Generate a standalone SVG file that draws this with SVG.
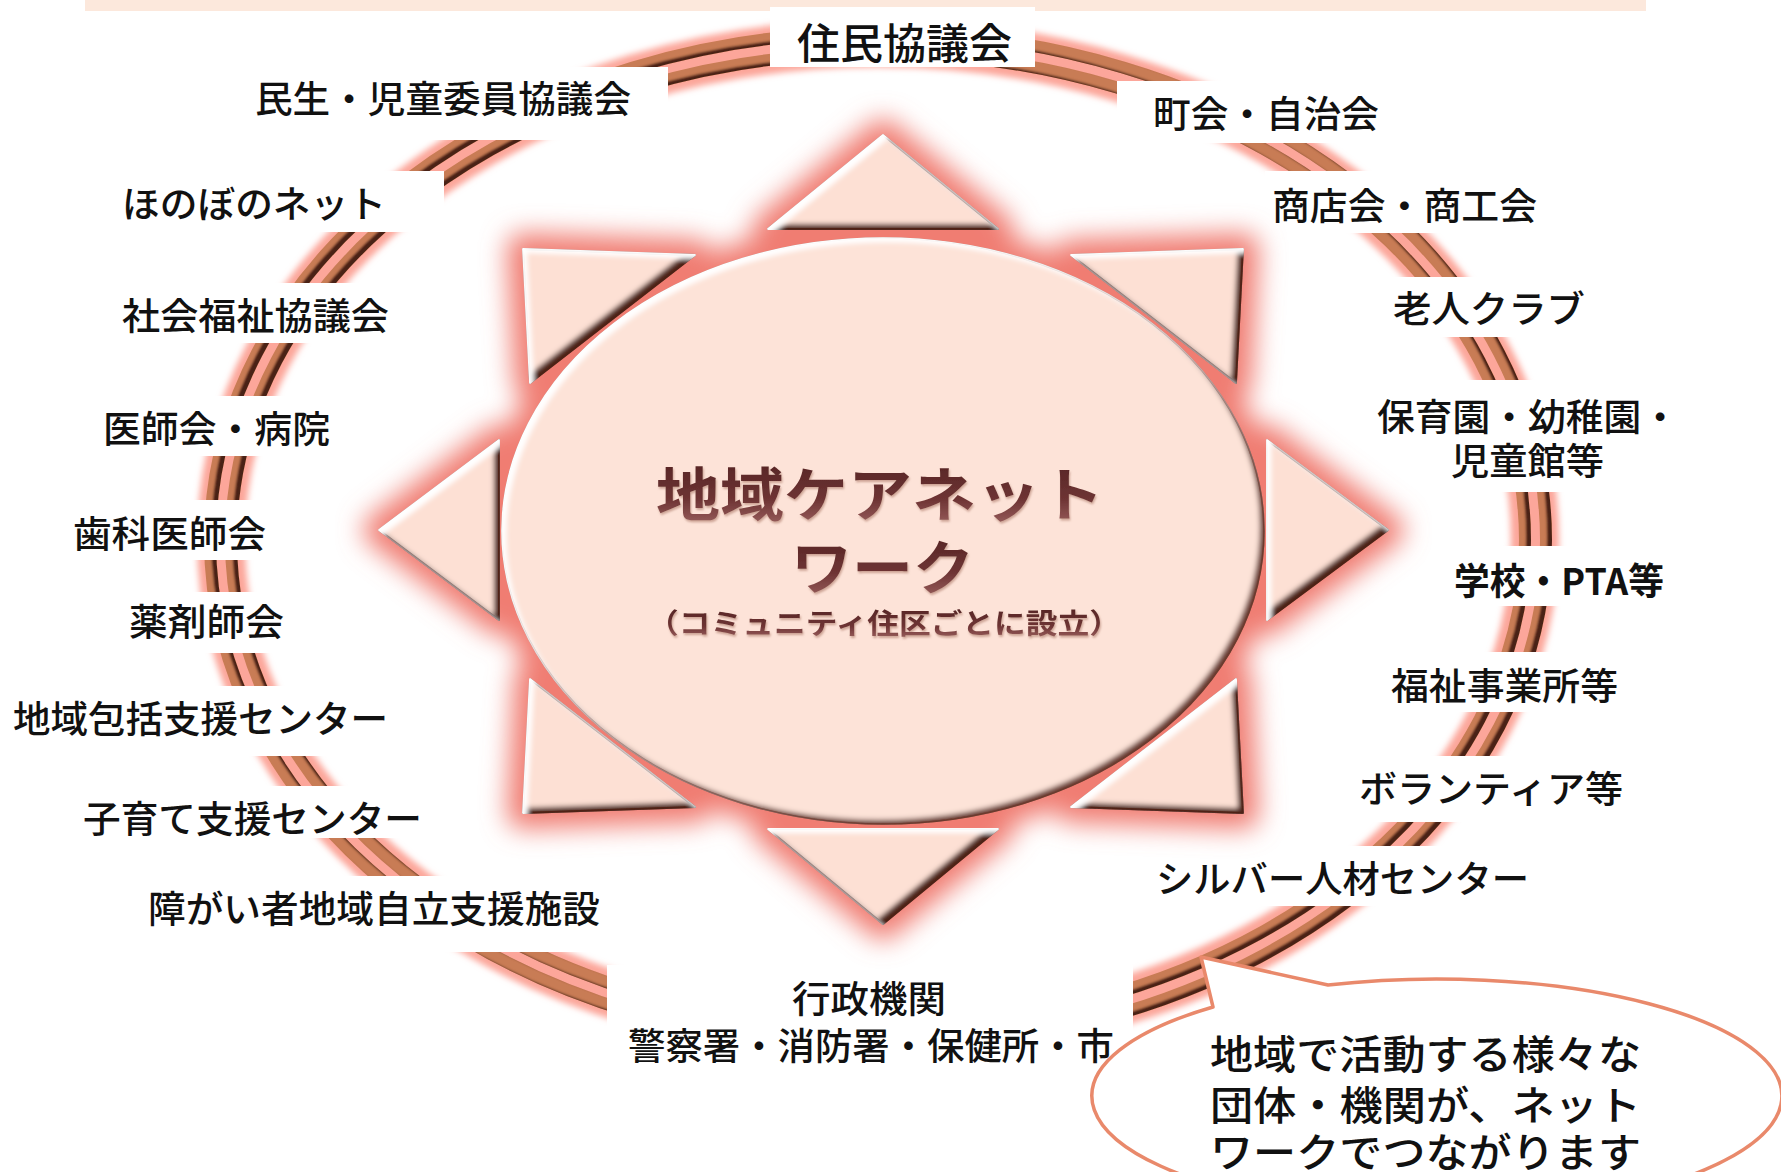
<svg xmlns="http://www.w3.org/2000/svg" width="1781" height="1172" viewBox="0 0 1781 1172">
  <style>
    .lbl { font-family: "Noto Sans CJK JP", "Noto Sans", sans-serif; font-size: 37px; font-weight: 500; fill: #111; }
    .lbl-big { font-size: 42px; }
    .lbl-bold { font-weight: 700; }
    .bg { fill: #fff; }
    .title { font-family: "Noto Sans CJK JP", "Noto Sans", sans-serif; font-weight: 700; fill: url(#titleGrad); }
    .bubble-text { font-family: "Noto Sans CJK JP", "Noto Sans", sans-serif; font-size: 40px; font-weight: 500; fill: #111; }
    .ray { fill: #fde0d4; stroke: #7e4a3c; stroke-width: 1.8; stroke-linejoin: round; }
    .ring-line { fill: none; stroke: #c87c54; stroke-width: 12; }
  </style>
  <defs>
    <linearGradient id="titleGrad" x1="0" y1="0" x2="0" y2="1">
      <stop offset="0" stop-color="#4e2020"/>
      <stop offset="0.6" stop-color="#6e3434"/>
      <stop offset="1" stop-color="#a56a68"/>
    </linearGradient>
    <filter id="soft" x="-10%" y="-10%" width="120%" height="120%">
      <feGaussianBlur stdDeviation="3"/>
    </filter>
    <filter id="halo" x="-20%" y="-20%" width="140%" height="140%">
      <feGaussianBlur stdDeviation="13"/>
    </filter>
    <!-- shading on the right-hand side of each ring line -->
    <filter id="lineShade" x="-5%" y="-5%" width="110%" height="110%">
      <feGaussianBlur in="SourceAlpha" stdDeviation="1" result="a"/>
      <feOffset in="a" dx="-5" dy="-3" result="s"/>
      <feComposite in="SourceAlpha" in2="s" operator="out" result="band"/>
      <feFlood flood-color="#4a2016"/>
      <feComposite in2="band" operator="in" result="shade"/>
      <feMerge>
        <feMergeNode in="SourceGraphic"/>
        <feMergeNode in="shade"/>
      </feMerge>
    </filter>
    <!-- raised bevel: dark band on lower-right edges, light band on upper-left edges -->
    <filter id="bevel" x="-10%" y="-10%" width="120%" height="120%">
      <feGaussianBlur in="SourceAlpha" stdDeviation="2.5" result="a"/>
      <feOffset in="a" dx="-6" dy="-6" result="aUL"/>
      <feComposite in="SourceAlpha" in2="aUL" operator="out" result="shadeBand"/>
      <feFlood flood-color="#4e2219"/>
      <feComposite in2="shadeBand" operator="in" result="shade"/>
      <feOffset in="a" dx="5" dy="5" result="aDR"/>
      <feComposite in="SourceAlpha" in2="aDR" operator="out" result="hiBand"/>
      <feFlood flood-color="#ffffff"/>
      <feComposite in2="hiBand" operator="in" result="hi"/>
      <feMerge>
        <feMergeNode in="SourceGraphic"/>
        <feMergeNode in="shade"/>
        <feMergeNode in="hi"/>
      </feMerge>
    </filter>
    <filter id="bevelSoft" x="-5%" y="-5%" width="110%" height="110%">
      <feGaussianBlur in="SourceAlpha" stdDeviation="2.5" result="a"/>
      <feOffset in="a" dx="-5" dy="-5" result="aUL"/>
      <feComposite in="SourceAlpha" in2="aUL" operator="out" result="shadeBand"/>
      <feFlood flood-color="#6a3a30"/>
      <feComposite in2="shadeBand" operator="in" result="shade"/>
      <feOffset in="a" dx="5" dy="5" result="aDR"/>
      <feComposite in="SourceAlpha" in2="aDR" operator="out" result="hiBand"/>
      <feFlood flood-color="#ffffff"/>
      <feComposite in2="hiBand" operator="in" result="hi"/>
      <feMerge>
        <feMergeNode in="SourceGraphic"/>
        <feMergeNode in="shade"/>
        <feMergeNode in="hi"/>
      </feMerge>
    </filter>
    <filter id="textShade" x="-5%" y="-20%" width="110%" height="140%">
      <feGaussianBlur in="SourceAlpha" stdDeviation="1.2" result="b"/>
      <feOffset in="b" dx="1" dy="2" result="o"/>
      <feFlood flood-color="#b88878" flood-opacity="0.7"/>
      <feComposite in2="o" operator="in" result="s"/>
      <feMerge>
        <feMergeNode in="s"/>
        <feMergeNode in="SourceGraphic"/>
      </feMerge>
    </filter>
    <g id="sunShape">
      <ellipse cx="883" cy="531" rx="381" ry="293"/>
      <polygon points="883,135 768,229 998,229"/>
      <polygon points="883,924 768,829 998,829"/>
      <polygon points="379,530 499,440 499,620"/>
      <polygon points="1388,530 1267,440 1267,620"/>
      <polygon points="523,249 695,255 530,383"/>
      <polygon points="1243,249 1071,255 1236,383"/>
      <polygon points="523,813 695,807 530,679"/>
      <polygon points="1243,813 1071,807 1236,679"/>
    </g>
  </defs>

  <rect width="1781" height="1172" fill="#fff"/>
  <!-- peach strip along the top edge -->
  <rect x="85" y="0" width="1561" height="11" fill="#fce8dc"/>

  <!-- network ring -->
  <g id="connectors">
    <ellipse cx="878" cy="540" rx="657" ry="497" fill="none" stroke="#fca69a" stroke-width="48" filter="url(#soft)"/>
    <ellipse class="ring-line" cx="878" cy="540" rx="647" ry="487" filter="url(#lineShade)"/>
    <ellipse class="ring-line" cx="878" cy="540" rx="668" ry="508" filter="url(#lineShade)"/>
  </g>

  <!-- label backdrops that break the ring -->
  <g id="label-backdrops">
    <rect class="bg" x="770" y="7" width="265" height="60"/>
    <rect class="bg" x="240" y="67" width="428" height="73"/>
    <rect class="bg" x="110" y="171" width="334" height="61"/>
    <rect class="bg" x="110" y="283" width="295" height="60"/>
    <rect class="bg" x="90" y="396" width="250" height="60"/>
    <rect class="bg" x="60" y="500" width="220" height="60"/>
    <rect class="bg" x="115" y="592" width="185" height="61"/>
    <rect class="bg" x="0" y="686" width="400" height="70"/>
    <rect class="bg" x="70" y="786" width="355" height="52"/>
    <rect class="bg" x="135" y="876" width="477" height="76"/>
    <rect class="bg" x="607" y="965" width="526" height="207"/>
    <rect class="bg" x="1117" y="81" width="278" height="62"/>
    <rect class="bg" x="1265" y="171" width="285" height="62"/>
    <rect class="bg" x="1380" y="277" width="220" height="60"/>
    <rect class="bg" x="1420" y="380" width="260" height="112"/>
    <rect class="bg" x="1440" y="546" width="240" height="60"/>
    <rect class="bg" x="1380" y="652" width="250" height="60"/>
    <rect class="bg" x="1345" y="756" width="290" height="66"/>
    <rect class="bg" x="1150" y="846" width="390" height="60"/>
  </g>

  <!-- central hub -->
  <g id="hub">
    <use href="#sunShape" fill="#f07d72" stroke="#f07d72" stroke-width="32" stroke-linejoin="round" filter="url(#halo)"/>
    <g class="ray">
      <polygon points="883,135 768,229 998,229" filter="url(#bevel)"/>
      <polygon points="883,924 768,829 998,829" filter="url(#bevel)"/>
      <polygon points="379,530 499,440 499,620" filter="url(#bevel)"/>
      <polygon points="1388,530 1267,440 1267,620" filter="url(#bevel)"/>
      <polygon points="523,249 695,255 530,383" filter="url(#bevel)"/>
      <polygon points="1243,249 1071,255 1236,383" filter="url(#bevel)"/>
      <polygon points="523,813 695,807 530,679" filter="url(#bevel)"/>
      <polygon points="1243,813 1071,807 1236,679" filter="url(#bevel)"/>
    </g>
    <ellipse cx="883" cy="531" rx="381" ry="293" fill="#fde3d8" stroke="#a0604e" stroke-width="1.5" filter="url(#bevelSoft)"/>
    <g filter="url(#textShade)">
      <text class="title" x="656" y="516" font-size="58" textLength="448" lengthAdjust="spacingAndGlyphs">地域ケアネット</text>
      <text class="title" x="791" y="589" font-size="58" textLength="183" lengthAdjust="spacingAndGlyphs">ワーク</text>
      <text class="title" x="647" y="634" font-size="28" textLength="474" lengthAdjust="spacingAndGlyphs">（コミュニティ住区ごとに設立）</text>
    </g>
  </g>

  <!-- member organisations -->
  <g id="n-jumin"><text class="lbl lbl-big" x="797" y="59" textLength="215" lengthAdjust="spacingAndGlyphs">住民協議会</text></g>
  <g id="n-minsei"><text class="lbl" x="255" y="113" textLength="376" lengthAdjust="spacingAndGlyphs">民生・児童委員協議会</text></g>
  <g id="n-honobono"><text class="lbl" x="122" y="218" textLength="264" lengthAdjust="spacingAndGlyphs">ほのぼのネット</text></g>
  <g id="n-shakyo"><text class="lbl" x="122" y="330" textLength="267" lengthAdjust="spacingAndGlyphs">社会福祉協議会</text></g>
  <g id="n-ishikai"><text class="lbl" x="103" y="443" textLength="227" lengthAdjust="spacingAndGlyphs">医師会・病院</text></g>
  <g id="n-shika"><text class="lbl" x="73" y="548" textLength="193" lengthAdjust="spacingAndGlyphs">歯科医師会</text></g>
  <g id="n-yakuzai"><text class="lbl" x="129" y="636" textLength="155" lengthAdjust="spacingAndGlyphs">薬剤師会</text></g>
  <g id="n-houkatsu"><text class="lbl" x="13" y="733" textLength="375" lengthAdjust="spacingAndGlyphs">地域包括支援センター</text></g>
  <g id="n-kosodate"><text class="lbl" x="83" y="833" textLength="339" lengthAdjust="spacingAndGlyphs">子育て支援センター</text></g>
  <g id="n-shogai"><text class="lbl" x="148" y="923" textLength="452" lengthAdjust="spacingAndGlyphs">障がい者地域自立支援施設</text></g>
  <g id="n-gyosei">
    <text class="lbl" x="792" y="1013" textLength="154" lengthAdjust="spacingAndGlyphs">行政機関</text>
    <text class="lbl" x="628" y="1060" textLength="486" lengthAdjust="spacingAndGlyphs">警察署・消防署・保健所・市</text>
  </g>
  <g id="n-chokai"><text class="lbl" x="1153" y="128" textLength="226" lengthAdjust="spacingAndGlyphs">町会・自治会</text></g>
  <g id="n-shotenkai"><text class="lbl" x="1272" y="220" textLength="265" lengthAdjust="spacingAndGlyphs">商店会・商工会</text></g>
  <g id="n-rojin"><text class="lbl" x="1393" y="323" textLength="192" lengthAdjust="spacingAndGlyphs">老人クラブ</text></g>
  <g id="n-hoikuen">
    <text class="lbl" x="1377" y="431" textLength="302" lengthAdjust="spacingAndGlyphs">保育園・幼稚園・</text>
    <text class="lbl" x="1451" y="475" textLength="153" lengthAdjust="spacingAndGlyphs">児童館等</text>
  </g>
  <g id="n-gakko"><text class="lbl lbl-bold" x="1454" y="595" textLength="210" lengthAdjust="spacingAndGlyphs">学校・PTA等</text></g>
  <g id="n-fukushi"><text class="lbl" x="1391" y="700" textLength="227" lengthAdjust="spacingAndGlyphs">福祉事業所等</text></g>
  <g id="n-volunteer"><text class="lbl" x="1359" y="803" textLength="264" lengthAdjust="spacingAndGlyphs">ボランティア等</text></g>
  <g id="n-silver"><text class="lbl" x="1156" y="893" textLength="373" lengthAdjust="spacingAndGlyphs">シルバー人材センター</text></g>

  <!-- explanatory speech bubble -->
  <g id="callout">
    <path d="M 1213,1007 L 1201,957 L 1328,985 A 345 117 0 1 1 1213,1007 Z" fill="#fff" stroke="#e9896b" stroke-width="3.5" stroke-linejoin="round"/>
    <text class="bubble-text" x="1210" y="1069" textLength="431" lengthAdjust="spacingAndGlyphs">地域で活動する様々な</text>
    <text class="bubble-text" x="1210" y="1120" textLength="431" lengthAdjust="spacingAndGlyphs">団体・機関が、ネット</text>
    <text class="bubble-text" x="1210" y="1167" textLength="431" lengthAdjust="spacingAndGlyphs">ワークでつながります</text>
  </g>
</svg>
